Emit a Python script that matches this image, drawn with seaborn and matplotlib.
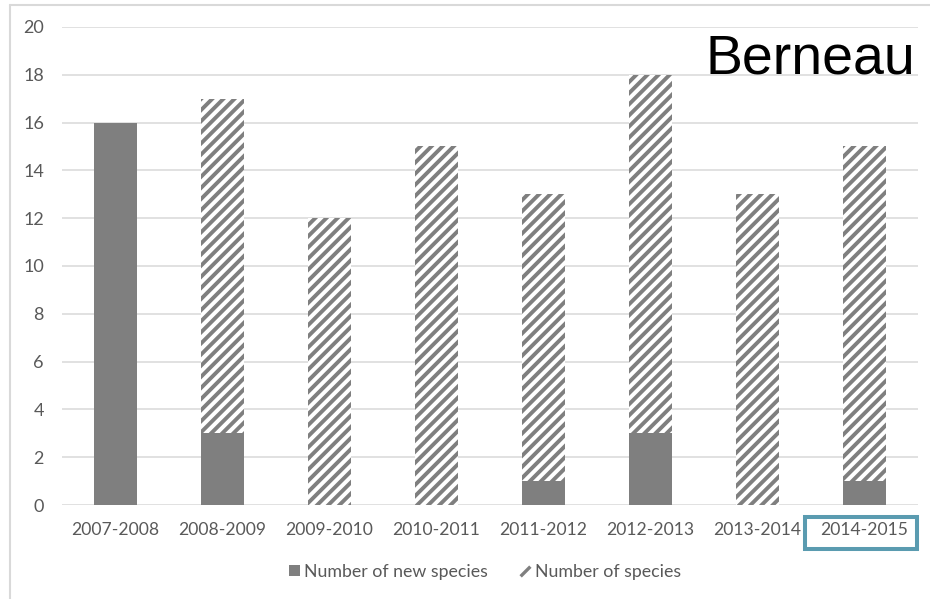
import matplotlib
matplotlib.use("Agg")
import matplotlib.pyplot as plt
import seaborn as sns
import pandas as pd
from matplotlib.patches import Rectangle, Patch
from matplotlib.lines import Line2D

seasons = ["2007-2008", "2008-2009", "2009-2010", "2010-2011",
           "2011-2012", "2012-2013", "2013-2014", "2014-2015"]
n_species = [16, 17, 12, 15, 13, 18, 13, 15]
n_new_species = [16, 3, 0, 0, 1, 3, 0, 1]
yticks = [0, 2, 4, 6, 8, 10, 12, 14, 16, 18, 20]
title = "Berneau"
legend_labels = ["Number of new species", "Number of species"]
highlight = "2014-2015"

df = pd.DataFrame({"season": seasons, "species": n_species, "new": n_new_species})

sns.set_theme(style="white")
plt.rcParams["font.family"] = ["Lato", "DejaVu Sans"]
plt.rcParams["hatch.linewidth"] = 2.8

W, H = 930, 599
fig = plt.figure(figsize=(W / 100, H / 100), dpi=100)
ax = fig.add_axes([62 / W, 1 - 505 / H, 856 / W, 478 / H])

gray = "#7f7f7f"
text_gray = "#595959"

sns.barplot(data=df, x="season", y="species", order=seasons, ax=ax,
            color="white", edgecolor=gray, linewidth=0, hatch="///",
            width=0.4, saturation=1, zorder=2)
sns.barplot(data=df, x="season", y="new", order=seasons, ax=ax,
            color=gray, edgecolor=gray, linewidth=0,
            width=0.4, saturation=1, zorder=3)

ax.set_ylim(0, 20)
ax.set_xlim(-0.5, len(seasons) - 0.5)
ax.set_yticks(yticks)
ax.set_xlabel("")
ax.set_ylabel("")
ax.grid(axis="y", color="#d9d9d9", linewidth=1.1, zorder=0)
ax.set_axisbelow(True)
for s in ax.spines.values():
    s.set_visible(False)
ax.tick_params(axis="y", length=0, pad=13, labelsize=13, labelcolor=text_gray)
ax.tick_params(axis="x", length=0, pad=12, labelsize=12.6, labelcolor=text_gray)

# legend
handles = [
    Patch(facecolor=gray, edgecolor="none"),
    Line2D([0], [0], linestyle="none", marker=[(-1, -1), (1, 1)],
           markersize=7, markeredgewidth=2.4, color=gray),
]
fig.legend(handles, legend_labels, loc="center", bbox_to_anchor=(485 / W, 1 - 572 / H),
           ncol=2, frameon=False, fontsize=12.8, labelcolor=text_gray,
           handlelength=0.6, handleheight=0.6, handletextpad=0.25, columnspacing=1.8)

# title text
fig.text(915 / W, 1 - 73 / H, title, ha="right", va="baseline",
         fontsize=40, color="black", family=["Liberation Sans", "DejaVu Sans"])

# highlight box around last tick label
fig.patches.append(Rectangle((805 / W, 1 - 549 / H), 112 / W, 32 / H,
                             transform=fig.transFigure, fill=False,
                             edgecolor="#5a9bb0", linewidth=2.9, zorder=5))

# outer chart border (left and top)
fig.add_artist(Line2D([10 / W, 10 / W], [0, 1 - 5 / H], transform=fig.transFigure,
                      color="#d9d9d9", linewidth=1.5))
fig.add_artist(Line2D([10 / W, 1], [1 - 5 / H, 1 - 5 / H], transform=fig.transFigure,
                      color="#d9d9d9", linewidth=1.5))

fig.savefig("out.png", dpi=100, facecolor="white")
